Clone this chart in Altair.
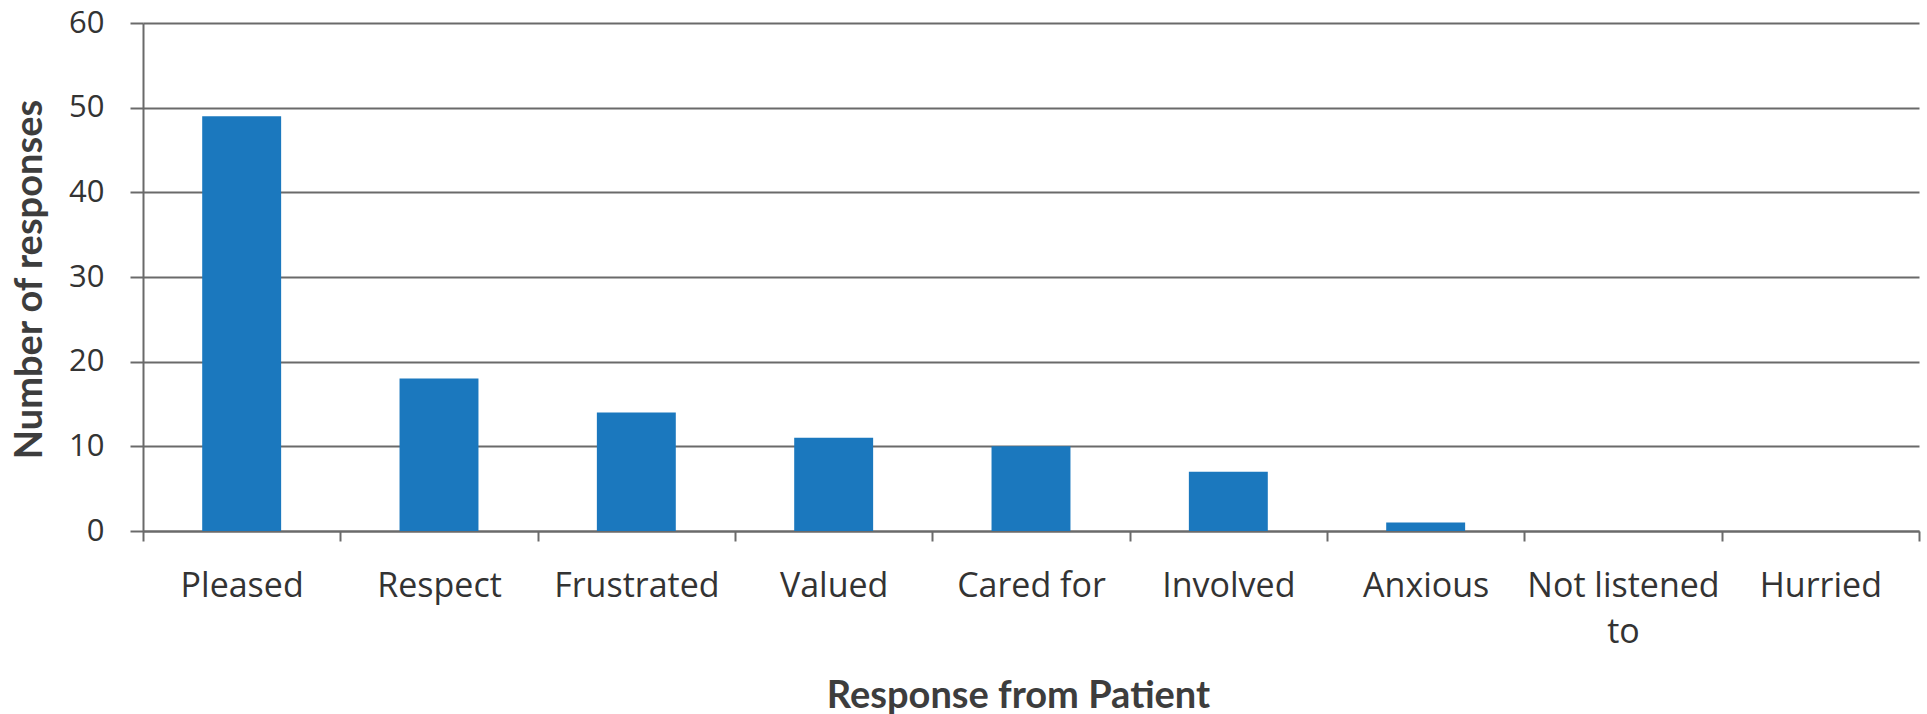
import altair as alt
import pandas as pd

# Patient feedback survey: how patients felt about their visit
responses = ["Pleased", "Respect", "Frustrated", "Valued", "Cared for",
             "Involved", "Anxious", "Not listened to", "Hurried"]
counts = [49, 18, 14, 11, 10, 7, 1, 0, 0]
y_ticks = [0, 10, 20, 30, 40, 50, 60]

df = pd.DataFrame({"response": responses, "count": counts})

GRID = "#6a6a6a"
TEXT = "#333333"
TITLE = "#3d3d3d"

bars = alt.Chart(df).mark_bar(color="#1B78BE", width=alt.RelativeBandSize(0.4)).encode(
    x=alt.X(
        "response:N",
        sort=responses,
        scale=alt.Scale(paddingInner=0, paddingOuter=0),
        axis=alt.Axis(
            title="Response from Patient",
            labelAngle=0,
            tickBand="extent",
            tickSize=10,
            tickWidth=2,
            tickColor=GRID,
            domainColor=GRID,
            domainWidth=2,
            labelFont="Open Sans",
            labelFontSize=34,
            labelColor=TEXT,
            labelPadding=28,
            labelLineHeight=46,
            labelLimit=400,
            labelExpr="datum.label == 'Not listened to' ? ['Not listened', 'to'] : datum.label",
            titleFont="Lato",
            titleFontSize=38,
            titleFontWeight="bold",
            titleColor=TITLE,
            titleX=875,
            titleY=165,
            titleBaseline="middle",
        ),
    ),
    y=alt.Y(
        "count:Q",
        scale=alt.Scale(domain=[0, 60], nice=False),
        axis=alt.Axis(
            title="Number of responses",
            values=y_ticks,
            grid=True,
            gridColor=GRID,
            gridWidth=2,
            gridOpacity=1,
            tickSize=13,
            tickWidth=2,
            tickColor=GRID,
            domainColor=GRID,
            domainWidth=2,
            labelFont="Open Sans",
            labelFontSize=31,
            labelColor=TEXT,
            labelPadding=26,
            titleFont="Lato",
            titleFontSize=38,
            titleFontWeight="bold",
            titleColor=TITLE,
            titleX=-113,
            titleY=256,
            titleBaseline="middle",
        ),
    ),
)

chart = bars.properties(
    width=1776,
    height=508,
    padding={"left": 143, "top": 23, "right": 8, "bottom": 183},
    autosize=alt.AutoSizeParams(type="none"),
    background="white",
).configure_view(stroke=None)

chart.save("out.html", embed_options={"renderer": "svg", "actions": False})
